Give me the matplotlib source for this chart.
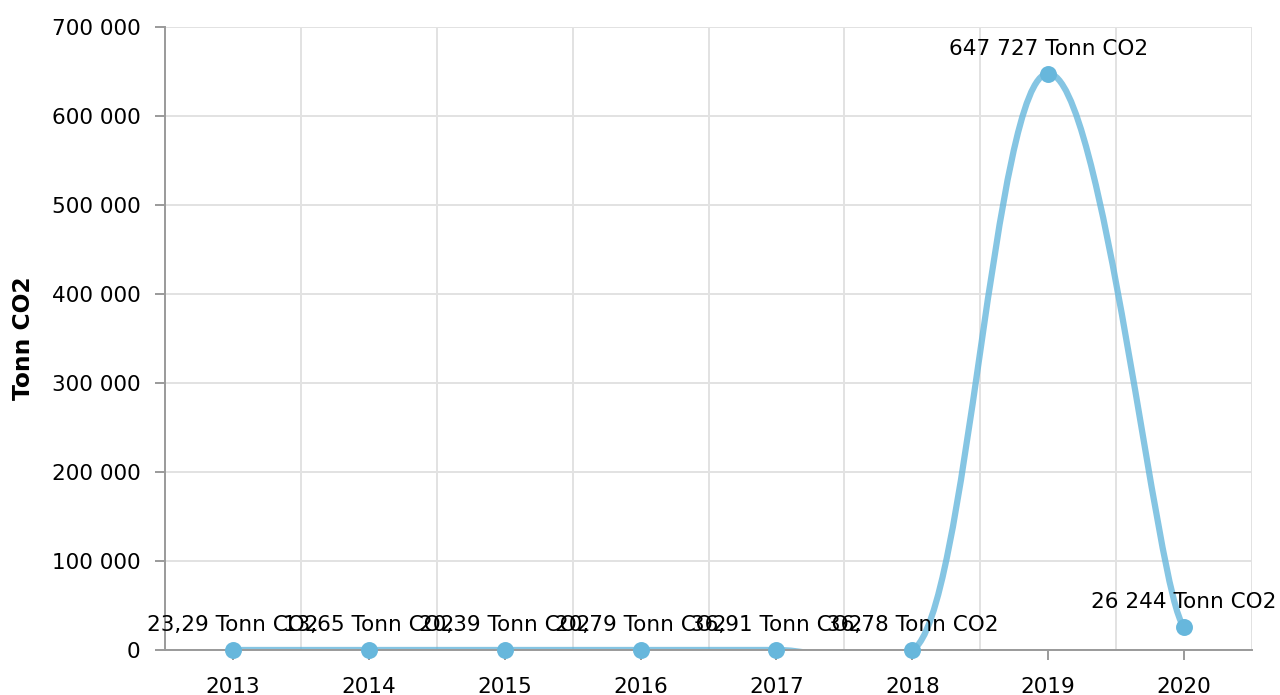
import numpy as np
import matplotlib
matplotlib.use("Agg")
import matplotlib.pyplot as plt
from matplotlib.path import Path
from matplotlib.patches import PathPatch

# ---- data ----
years = [2013, 2014, 2015, 2016, 2017, 2018, 2019, 2020]
values = [23.29, 13.65, 20.39, 20.79, 36.91, 36.78, 647727, 26244]
unit = "Tonn CO2"
y_ticks = [0, 100000, 200000, 300000, 400000, 500000, 600000, 700000]
axis_title = "Tonn CO2"


def fmt_num(v):
    if abs(v) >= 1000:
        return f"{v:,.0f}".replace(",", " ")
    return f"{v:.2f}".replace(".", ",")


value_labels = [f"{fmt_num(v)} {unit}" for v in values]
y_tick_labels = [fmt_num(v) if v else "0" for v in y_ticks]

# ---- style ----
FONT = 15.5
LINE_COLOR = "#67b7dc"
GRID_COLOR = "#e2e2e2"
AXIS_COLOR = "#9a9a9a"
TENSION_X, TENSION_Y = 0.8, 0.95


def tension_path(xs, ys, tx, ty):
    """Cubic smoothing (tension style) through the given points."""
    kx, ky = 1 - tx, 1 - ty
    pts = list(zip(xs, ys))
    n = len(pts)
    verts = [pts[0]]
    codes = [Path.MOVETO]
    for i in range(n - 1):
        p0 = pts[i - 1] if i > 0 else pts[i]
        p1 = pts[i]
        p2 = pts[i + 1]
        p3 = pts[i + 2] if i + 2 < n else pts[i + 1]
        c1 = (p1[0] + kx * (p2[0] - p0[0]), p1[1] + ky * (p2[1] - p0[1]))
        c2 = (p2[0] - kx * (p3[0] - p1[0]), p2[1] - ky * (p3[1] - p1[1]))
        verts += [c1, c2, p2]
        codes += [Path.CURVE4] * 3
    return Path(verts, codes)


plt.rcParams["font.family"] = ["DejaVu Sans"]
fig = plt.figure(figsize=(12.8, 6.95), dpi=100)
ax = fig.add_axes([165 / 1280, 1 - 650 / 695, 1087 / 1280, 623 / 695])

ax.set_xlim(years[0] - 0.5, years[-1] + 0.5)
ax.set_ylim(y_ticks[0], y_ticks[-1])

ax.set_yticks(y_ticks)
ax.set_yticklabels(y_tick_labels)
ax.set_xticks(years)
ax.set_xticklabels([str(y) for y in years])
ax.set_xticks(np.arange(years[0] + 0.5, years[-1] + 1.0, 1.0), minor=True)

ax.grid(axis="y", which="major", color=GRID_COLOR, lw=1.4)
ax.grid(axis="x", which="minor", color=GRID_COLOR, lw=1.4)
ax.grid(axis="x", which="major", visible=False)
ax.set_axisbelow(True)

for s in ("top", "right"):
    ax.spines[s].set_visible(False)
for s in ("left", "bottom"):
    ax.spines[s].set_color(AXIS_COLOR)
    ax.spines[s].set_linewidth(1.4)

ax.tick_params(axis="both", which="major", length=7.2, width=1.4,
               color=AXIS_COLOR, labelsize=FONT, labelcolor="#000000")
ax.tick_params(axis="x", which="major", pad=12)
ax.tick_params(axis="y", which="major", pad=10.5)
ax.tick_params(axis="x", which="minor", length=0)

# smoothed line
path = tension_path(years, values, TENSION_X, TENSION_Y)
patch = PathPatch(path, facecolor="none", edgecolor=LINE_COLOR, lw=4.5,
                  alpha=0.8, zorder=2, capstyle="round", joinstyle="round")
ax.add_patch(patch)

# markers
ax.plot(years, values, linestyle="none", marker="o", ms=12.2,
        color=LINE_COLOR, markeredgewidth=0, zorder=4, clip_on=False)

# value labels
for x, v, lab in zip(years, values, value_labels):
    ax.annotate(lab, (x, v), xytext=(0, 13.5), textcoords="offset points",
                ha="center", va="baseline", fontsize=FONT, color="#000000",
                annotation_clip=False, zorder=5)

fig.text(24 / 1280, 1 - 338.5 / 695, axis_title, rotation=90,
         fontweight="bold", ha="center", va="center", fontsize=16.8)

fig.savefig("out.png", dpi=100)
